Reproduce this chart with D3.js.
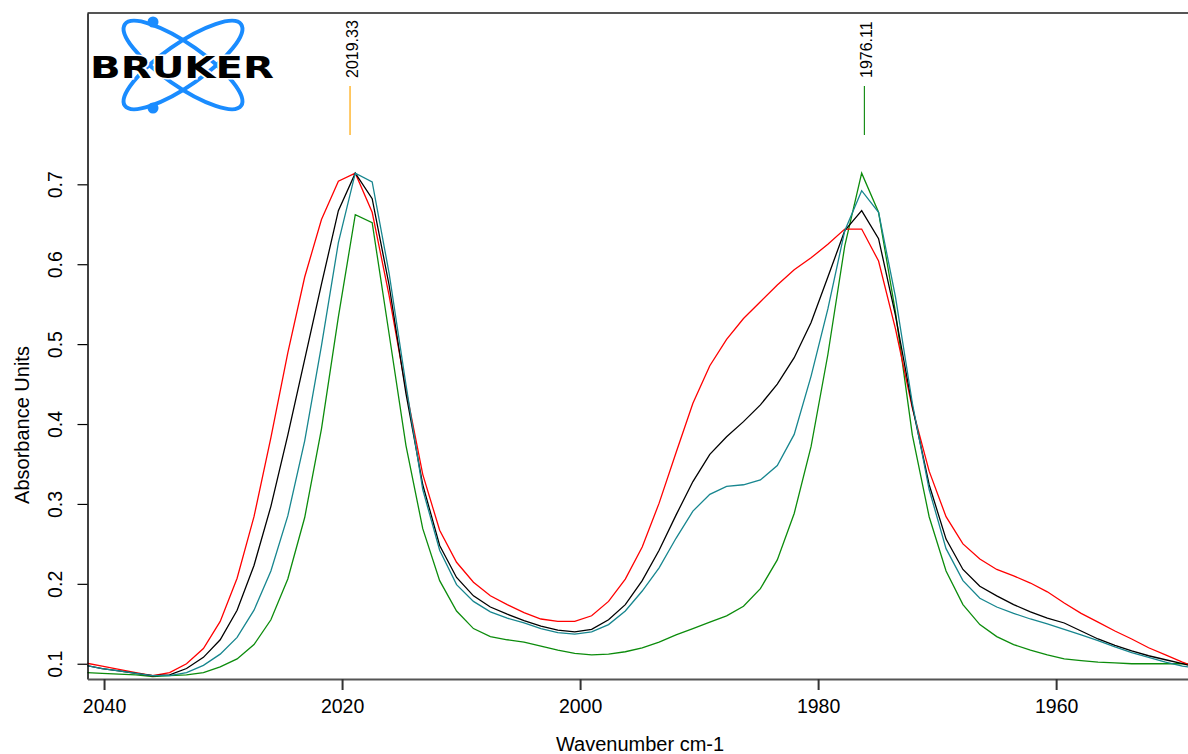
<!DOCTYPE html>
<html>
<head>
<meta charset="utf-8">
<script src="https://cdn.jsdelivr.net/npm/d3@7/dist/d3.min.js"></script>
<style>
  html, body { margin: 0; padding: 0; background: #fff; }
  svg { display: block; font-family: "Liberation Sans", Arial, sans-serif; }
</style>
</head>
<body>
<div id="chart"></div>
<script>
// wavenumber of every sample (cm-1)
const wavenumbers = [2041.58, 2040.16, 2038.75, 2037.33, 2035.91, 2034.49, 2033.07, 2031.65, 2030.24, 2028.82,
  2027.40, 2025.98, 2024.56, 2023.14, 2021.73, 2020.31, 2018.89, 2017.47, 2016.05, 2014.63,
  2013.22, 2011.80, 2010.38, 2008.96, 2007.54, 2006.12, 2004.71, 2003.29, 2001.87, 2000.45,
  1999.03, 1997.61, 1996.20, 1994.78, 1993.36, 1991.94, 1990.52, 1989.10, 1987.69, 1986.27,
  1984.85, 1983.43, 1982.01, 1980.59, 1979.18, 1977.76, 1976.34, 1974.92, 1973.50, 1972.08,
  1970.67, 1969.25, 1967.83, 1966.41, 1964.99, 1963.57, 1962.16, 1960.74, 1959.32, 1957.90,
  1956.48, 1955.06, 1953.65, 1952.23, 1950.81, 1949.39, 1947.97];

const redSpec = [0.101,0.097,0.093,0.089,0.085,0.089,0.100,0.119,0.153,0.207,0.284,0.383,0.489,0.584,0.656,0.704,
  0.714,0.665,0.561,0.443,0.337,0.267,0.227,0.202,0.185,0.174,0.164,0.156,0.153,
  0.153,0.160,0.178,0.206,0.246,0.301,0.364,0.426,0.473,0.506,0.532,0.553,0.574,0.593,0.608,
  0.625,0.644,0.644,0.604,0.519,0.420,0.341,0.284,0.250,0.231,0.218,0.210,0.201,0.190,
  0.176,0.163,0.152,0.141,0.131,0.120,0.111,0.102,0.094];

const blackSpec = [0.098,0.094,0.091,0.088,0.085,0.086,0.094,0.108,0.130,0.167,0.223,0.297,0.386,0.481,0.575,0.667,
  0.714,0.682,0.574,0.438,0.324,0.248,0.208,0.185,0.171,0.162,0.154,0.147,0.142,
  0.140,0.143,0.155,0.174,0.204,0.242,0.286,0.328,0.362,0.384,0.403,0.424,0.450,0.483,0.527,
  0.584,0.642,0.667,0.632,0.536,0.422,0.324,0.256,0.218,0.197,0.185,0.174,0.165,0.157,
  0.151,0.141,0.131,0.123,0.116,0.110,0.105,0.100,0.095];

const tealSpec = [0.098,0.094,0.091,0.088,0.085,0.085,0.089,0.098,0.112,0.133,0.167,0.216,0.285,0.379,0.498,0.627,
  0.714,0.703,0.589,0.449,0.318,0.242,0.199,0.178,0.165,0.157,0.151,0.144,0.139,
  0.137,0.140,0.149,0.166,0.191,0.220,0.257,0.291,0.312,0.322,0.324,0.330,0.348,0.387,0.460,
  0.544,0.642,0.692,0.665,0.559,0.426,0.318,0.244,0.204,0.182,0.171,0.163,0.156,0.150,
  0.143,0.136,0.129,0.121,0.114,0.108,0.102,0.097,0.094];

const greenSpec = [0.089,0.088,0.087,0.086,0.084,0.085,0.086,0.089,0.096,0.106,0.124,0.155,0.206,0.283,0.394,0.534,
  0.662,0.652,0.513,0.373,0.269,0.204,0.166,0.144,0.134,0.130,0.127,0.122,0.117,
  0.113,0.111,0.112,0.115,0.120,0.127,0.136,0.144,0.152,0.160,0.172,0.194,0.230,0.288,0.372,
  0.487,0.623,0.714,0.665,0.540,0.386,0.284,0.216,0.174,0.149,0.134,0.124,0.117,0.111,
  0.106,0.104,0.102,0.101,0.100,0.100,0.100,0.100,0.099];

const xTicks = [2040, 2020, 2000, 1980, 1960];
const yTicks = [0.1, 0.2, 0.3, 0.4, 0.5, 0.6, 0.7];
const peakPositions = [2019.33, 1976.11];
const peakLabels = ['2019.33', '1976.11'];
const peakColors = ['#ffa500', '#1a8f1a'];

const W = 1188, H = 754;
const plotL = 87.5, plotT = 13, plotR = 1192, plotB = 679;

const svg = d3.select('#chart').append('svg').attr('width', W).attr('height', H);

const x = d3.scaleLinear().domain([2041.39, 1948.92]).range([plotL, 1188]);
const y = d3.scaleLinear().domain([0.0809, 0.9144]).range([plotB, plotT]);

svg.append('defs').append('clipPath').attr('id', 'plotclip')
  .append('rect').attr('x', plotL).attr('y', plotT).attr('width', plotR - plotL).attr('height', plotB - plotT);

// spectra
const series = [
  { vals: greenSpec, color: '#0c8c0c' },
  { vals: redSpec, color: '#ff0000' },
  { vals: blackSpec, color: '#000000' },
  { vals: tealSpec, color: '#17868f' }
];
const line = d3.line().x(d => x(d[0])).y(d => y(d[1]));
const plot = svg.append('g').attr('clip-path', 'url(#plotclip)');
series.forEach(s => {
  plot.append('path')
    .datum(wavenumbers.map((w, i) => [w, s.vals[i]]))
    .attr('fill', 'none').attr('stroke', s.color).attr('stroke-width', 1.3)
    .attr('d', line);
});

// frame top
svg.append('line').attr('x1', plotL).attr('x2', plotR).attr('y1', plotT).attr('y2', plotT)
  .attr('stroke', '#555').attr('stroke-width', 2);

// y axis
const yAxis = svg.append('g').attr('transform', `translate(${plotL},0)`)
  .call(d3.axisLeft(y).tickValues(yTicks).tickSize(10).tickSizeOuter(0).tickFormat(d3.format('.1f')));
yAxis.select('.domain').attr('stroke', '#000').attr('stroke-width', 1.5);
yAxis.selectAll('.tick line').attr('stroke', '#000').attr('stroke-width', 1.2);
yAxis.selectAll('.tick text')
  .attr('x', null).attr('dy', '0.35em')
  .attr('transform', 'translate(-32,0) rotate(-90)')
  .attr('text-anchor', 'middle')
  .attr('font-size', 19.5).attr('font-family', '"Liberation Sans", Arial, sans-serif').attr('fill', '#000');

// x axis
const xAxis = svg.append('g').attr('transform', `translate(0,${plotB})`)
  .call(d3.axisBottom(x).tickValues(xTicks).tickSize(11).tickSizeOuter(0).tickPadding(9).tickFormat(d3.format('d')));
xAxis.select('.domain').attr('stroke', '#555').attr('stroke-width', 2);
xAxis.selectAll('.tick line').attr('stroke', '#333').attr('stroke-width', 2);
xAxis.selectAll('.tick text')
  .attr('font-size', 19.5).attr('font-family', '"Liberation Sans", Arial, sans-serif').attr('fill', '#000');

// axis titles
svg.append('text').attr('x', 640).attr('y', 751).attr('text-anchor', 'middle')
  .attr('font-size', 20).text('Wavenumber cm-1');
svg.append('text').attr('transform', 'translate(29,425) rotate(-90)').attr('text-anchor', 'middle')
  .attr('font-size', 20).text('Absorbance Units');

// peak picks
peakPositions.forEach((p, i) => {
  svg.append('line').attr('x1', x(p)).attr('x2', x(p)).attr('y1', 86).attr('y2', 135)
    .attr('stroke', peakColors[i]).attr('stroke-width', 1.2);
  svg.append('text').attr('transform', `translate(${x(p) + 2},78) rotate(-90)`)
    .attr('dy', '0.35em').attr('font-size', 16).attr('text-anchor', 'start').text(peakLabels[i]);
});

// Bruker logo
const logo = svg.append('g');
[35, -35].forEach(a => {
  logo.append('ellipse').attr('cx', 183).attr('cy', 65).attr('rx', 71).attr('ry', 21)
    .attr('transform', `rotate(${a},183,65)`)
    .attr('fill', 'none').attr('stroke', '#1a8cff').attr('stroke-width', 4);
});
logo.append('circle').attr('cx', 153).attr('cy', 22).attr('r', 5.5).attr('fill', '#1a8cff');
logo.append('circle').attr('cx', 153).attr('cy', 108).attr('r', 5.5).attr('fill', '#1a8cff');
logo.append('text').attr('x', 90).attr('y', 78)
  .attr('font-family', '"DejaVu Sans", sans-serif').attr('font-weight', 'bold').attr('font-size', 31)
  .attr('textLength', 184).attr('lengthAdjust', 'spacingAndGlyphs')
  .attr('stroke', '#fff').attr('stroke-width', 3).attr('paint-order', 'stroke')
  .attr('fill', '#000').text('BRUKER');
</script>
</body>
</html>
